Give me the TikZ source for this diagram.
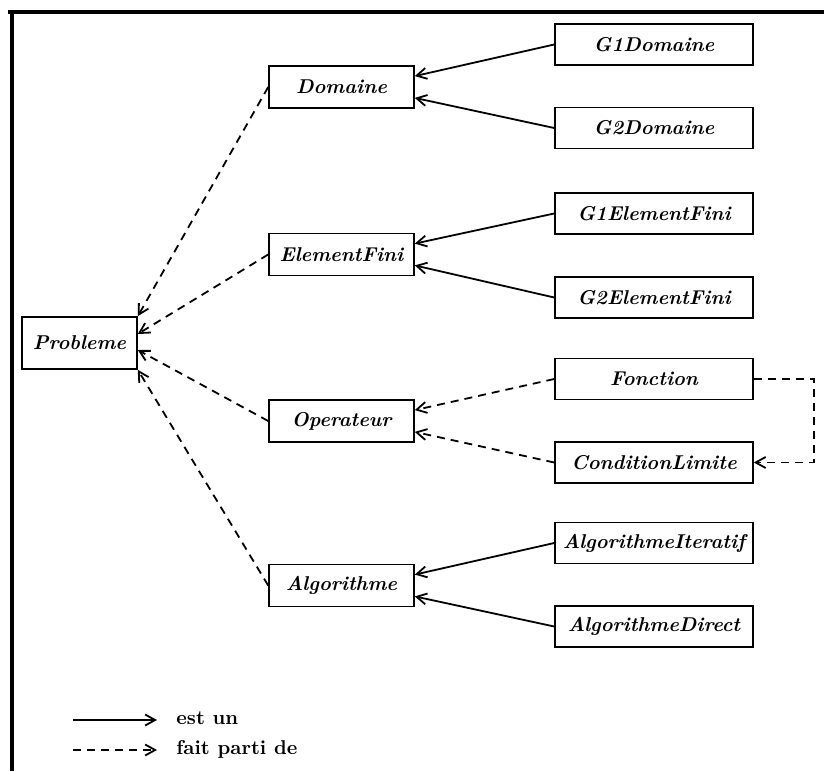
\documentclass[tikz,border=0pt]{standalone}
\usetikzlibrary{arrows.meta,calc}
\begin{document}
\begin{tikzpicture}[x=0.5pt,y=-0.5pt,
  box/.style={draw,line width=0.8pt,inner sep=0pt,font=\bfseries\itshape},
  lbox/.style={box,minimum width=57.5pt,minimum height=26pt},
  mbox/.style={box,minimum width=72.5pt,minimum height=21pt},
  rbox/.style={box,minimum width=99pt,minimum height=20.5pt},
  tip/.style={-{Straight Barb[length=5pt,width=5.5pt,line width=0.9pt]}},
  isa/.style={tip,line width=0.9pt},
  partof/.style={tip,line width=0.9pt,dash pattern=on 4pt off 3pt},
  frame/.style={line width=1.6pt}]
\useasboundingbox (0,0) rectangle (824,771);

% frame (top and left edges only)
\draw[frame] (8,12) -- (824,12);
\draw[frame] (12,11) -- (12,771);

% root
\node[lbox] (pb) at (79.5,343) {Probleme};

% middle column
\node[mbox] (dom) at (341.5,87) {Domaine};
\node[mbox] (ef)  at (341.5,254.5) {ElementFini};
\node[mbox] (op)  at (341.5,421) {Operateur};
\node[mbox] (alg) at (341.5,585.5) {Algorithme};

% right column
\node[rbox] (g1d) at (654,44.5) {G1Domaine};
\node[rbox] (g2d) at (654,128) {G2Domaine};
\node[rbox] (g1e) at (654,213.5) {G1ElementFini};
\node[rbox] (g2e) at (654,297.5) {G2ElementFini};
\node[rbox] (fon) at (654,379) {Fonction};
\node[rbox] (cl)  at (654,462.5) {ConditionLimite};
\node[rbox] (ait) at (654,543) {AlgorithmeIteratif};
\node[rbox] (adi) at (654,626.5) {AlgorithmeDirect};

% "est un" links
\draw[isa] (g1d.west) -- ($(dom.north east)!0.25!(dom.south east)$);
\draw[isa] (g2d.west) -- ($(dom.north east)!0.75!(dom.south east)$);
\draw[isa] (g1e.west) -- ($(ef.north east)!0.25!(ef.south east)$);
\draw[isa] (g2e.west) -- ($(ef.north east)!0.75!(ef.south east)$);
\draw[isa] (ait.west) -- ($(alg.north east)!0.25!(alg.south east)$);
\draw[isa] (adi.west) -- ($(alg.north east)!0.75!(alg.south east)$);

% "fait parti de" links
\draw[partof] (fon.west) -- ($(op.north east)!0.25!(op.south east)$);
\draw[partof] (cl.west) -- ($(op.north east)!0.75!(op.south east)$);
\draw[partof] (fon.east) -- ++(60,0) |- (cl.east);
\draw[partof] (dom.west) -- (pb.north east);
\draw[partof] (ef.west) -- ([yshift=4.5pt]pb.east);
\draw[partof] (op.west) -- ([yshift=-3.5pt]pb.east);
\draw[partof] (alg.west) -- (pb.south east);

% legend
\coordinate (l1a) at (73,720);
\coordinate (l1b) at (157,720);
\coordinate (l2a) at (73,750);
\coordinate (l2b) at (157,750);
\draw[isa] (l1a) -- (l1b);
\draw[partof] (l2a) -- (l2b);
\node[anchor=west,font=\bfseries,inner sep=0pt] (t1) at (176,718) {est un};
\node[anchor=west,font=\bfseries,inner sep=0pt] (t2) at (176,749) {fait parti de};
\end{tikzpicture}
\end{document}
